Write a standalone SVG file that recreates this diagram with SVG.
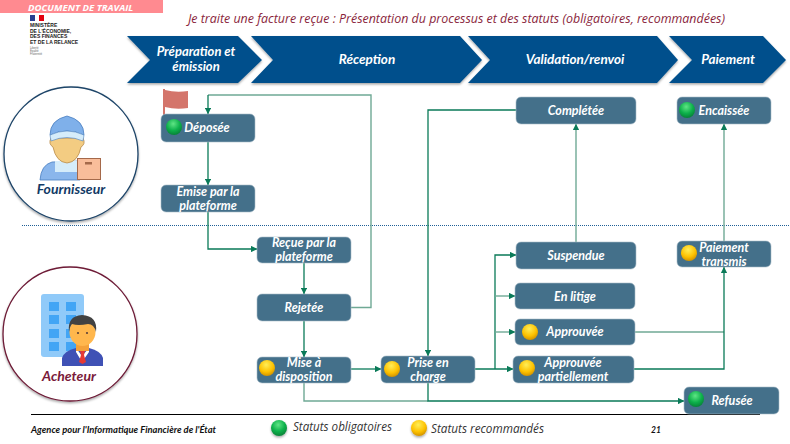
<svg xmlns="http://www.w3.org/2000/svg" width="790" height="444" viewBox="0 0 790 444">
<style>
text{font-family:"Lato","Liberation Sans",sans-serif}
.n{fill:#44708a;stroke:#a9bcc8;stroke-width:.6}
.t{fill:#fff;font-weight:700;font-style:italic;font-size:12.5px;text-anchor:middle}
.h{fill:#fff;font-weight:700;font-style:italic;font-size:13.5px;text-anchor:middle}
.c{fill:#03508c}
.d{fill:none;stroke:#0a7a58;stroke-width:1.3}
.l{fill:none;stroke:#6fa995;stroke-width:1.4}
.s{font-family:"Open Sans","Liberation Sans",sans-serif;font-style:italic;font-size:12px;fill:#333}
.m{font-family:"Liberation Sans",sans-serif;font-weight:700;font-size:5px;fill:#222}
.v{font-family:"Liberation Sans",sans-serif;font-size:2.8px;fill:#666}
</style>
<defs>
<filter id="sh" x="-10%" y="-10%" width="125%" height="130%"><feDropShadow dx="0" dy="1.5" stdDeviation="1.2" flood-color="#000" flood-opacity=".35"/></filter>
<radialGradient id="gg" cx=".45" cy=".3" r=".75"><stop offset="0" stop-color="#5fe585"/><stop offset=".55" stop-color="#0db14b"/><stop offset="1" stop-color="#067a35"/></radialGradient>
<radialGradient id="gy" cx=".45" cy=".3" r=".75"><stop offset="0" stop-color="#ffee58"/><stop offset=".6" stop-color="#fdc100"/><stop offset="1" stop-color="#c98a00"/></radialGradient>
<circle id="bg" r="8" fill="url(#gg)"/>
<circle id="by" r="8" fill="url(#gy)"/>
<marker id="a" viewBox="0 0 10 10" refX="9.5" refY="5" markerWidth="6.5" markerHeight="6.5" markerUnits="userSpaceOnUse" orient="auto"><path d="M0 0L10 5L0 10Z" fill="#0a7a58"/></marker>
</defs>

<rect x="0" y="0" width="163" height="13" fill="#ff8a90"/>
<text x="28" y="11" font-size="9.6" font-weight="700" font-style="italic" fill="#fff" style="font-family:'Open Sans',sans-serif">DOCUMENT DE TRAVAIL</text>

<g id="logo">
<rect x="30" y="15" width="5" height="6" fill="#2a3f8f"/><rect x="35" y="15" width="4" height="6" fill="#fff"/><rect x="39" y="15" width="5" height="6" fill="#e1000f"/>
<text class="m" x="30" y="27">MINISTÈRE</text>
<text class="m" x="30" y="32.500">DE L'ÉCONOMIE,</text>
<text class="m" x="30" y="38">DES FINANCES</text>
<text class="m" x="30" y="43.500">ET DE LA RELANCE</text>
<text class="v" x="30" y="49">Liberté</text><text class="v" x="30" y="52">Égalité</text><text class="v" x="30" y="55">Fraternité</text>
</g>

<text x="188" y="23" font-size="12.2" font-style="italic" fill="#8a1f3c" style="font-family:'Open Sans',sans-serif" textLength="537" lengthAdjust="spacingAndGlyphs">Je traite une facture reçue : Présentation du processus et des statuts (obligatoires, recommandées)</text>

<g id="phases" filter="url(#sh)">
<polygon class="c" points="127,36 238,36 262,60 238,83 127,83 150,60"/>
<polygon class="c" points="251,36 460,36 482,60 460,83 251,83 273,60"/>
<polygon class="c" points="468,36 657,36 678,60 657,83 468,83 490,60"/>
<polygon class="c" points="669,36 763,36 786,60 763,83 669,83 692,60"/>
</g>
<g id="phase-labels">
<text class="h" x="196" y="56" style="font-size:13px">Préparation et</text><text class="h" x="196" y="71" style="font-size:13px">émission</text>
<text class="h" x="367" y="64">Réception</text>
<text class="h" x="575" y="64">Validation/renvoi</text>
<text class="h" x="728" y="64">Paiement</text>
</g>

<line x1="22" y1="225.500" x2="790" y2="225.500" stroke="#1f5f96" stroke-width="1.2" stroke-dasharray="1 1"/>
<line x1="31" y1="414.500" x2="760" y2="414.500" stroke="#000" stroke-width="1"/>

<g id="fournisseur">
<circle cx="71" cy="154" r="67" fill="#fff" stroke="#1d4468" stroke-width="1.3" filter="url(#sh)"/>
<path d="M40 180Q41 165 52 162L80 161V180Z" fill="#8ab6ec" stroke="#4a7fc0" stroke-width=".8"/>
<path d="M55 161L79 161V172H55Z" fill="#d5ecfa"/>
<path d="M51 138Q48 144 53 147Q56 162 67 163Q78 162 81 147Q86 144 83 138Z" fill="#f3cc82" stroke="#b98b4a" stroke-width=".8"/>
<path d="M50 135Q50 120 67 116Q84 120 84 135Q67 127 50 135Z" fill="#7fb0ea" stroke="#4a7fc0" stroke-width=".8"/>
<path d="M50 135Q67 127 84 135L83 141Q67 134 51 141Z" fill="#d5ecfa" stroke="#4a7fc0" stroke-width=".6"/>
<rect x="77.500" y="158.500" width="23" height="21" fill="#f9bd9a" stroke="#a5694a" stroke-width="1"/>
<rect x="85" y="162" width="7" height="2.500" fill="#a5694a"/>
<text x="71" y="194" font-size="14" font-weight="700" font-style="italic" text-anchor="middle" fill="#123a66">Fournisseur</text>
</g>

<g id="acheteur">
<circle cx="70" cy="334" r="67" fill="#fff" stroke="#6d1a36" stroke-width="1.3" filter="url(#sh)"/>
<rect x="41" y="294" width="43" height="63" rx="3" fill="#90caf9"/>
<g fill="#42a5f5">
<rect x="49" y="302" width="10" height="9"/><rect x="66" y="302" width="10" height="9"/>
<rect x="49" y="315" width="10" height="9"/><rect x="66" y="315" width="10" height="9"/>
<rect x="49" y="329" width="10" height="9"/><rect x="66" y="329" width="10" height="9"/>
<rect x="49" y="342" width="10" height="9"/><rect x="66" y="342" width="10" height="9"/>
</g>
<path d="M62 366V358Q64 351 76 348H89Q101 351 103 358V366Z" fill="#3f51b5"/>
<path d="M76 348L82 356L89 348V352L82 362L76 352Z" fill="#fff"/>
<path d="M80 351H85L84 355L86 362L82.500 364L79 362L81 355Z" fill="#e53935"/>
<rect x="76" y="342" width="13" height="9" fill="#f4a13a"/>
<ellipse cx="82.500" cy="332" rx="13" ry="14" fill="#ffb74d"/>
<path d="M69 332Q67 316 82 315Q98 316 96 332Q94 324 88 324Q78 326 72 324Q70 326 69 332Z" fill="#424242"/>
<circle cx="78" cy="333" r="1.100" fill="#5d4037"/><circle cx="87" cy="333" r="1.100" fill="#5d4037"/>
<text x="69" y="381" font-size="14" font-weight="700" font-style="italic" text-anchor="middle" fill="#7a1a3a">Acheteur</text>
</g>

<g id="connectors">
<path class="l" d="M351 307.500H371V95H208"/>
<path class="d" d="M208 95V114" marker-end="url(#a)"/>
<path class="d" d="M208 142V185" marker-end="url(#a)"/>
<path class="d" d="M208 212V249H257" marker-end="url(#a)"/>
<path class="d" d="M304 263V294" marker-end="url(#a)"/>
<path class="d" d="M304 321V357" marker-end="url(#a)"/>
<path class="d" d="M351 369H381" marker-end="url(#a)"/>
<path class="l" d="M304 383V401H428"/>
<path class="d" d="M428 383V401H684" marker-end="url(#a)"/>
<path class="d" d="M516 110H428V356" marker-end="url(#a)"/>
<path class="d" d="M475 369H513" marker-end="url(#a)"/>
<path class="d" d="M495 369V255H516" marker-end="url(#a)"/>
<path class="l" d="M495 296H515" marker-end="url(#a)"/>
<path class="l" d="M495 332H515" marker-end="url(#a)"/>
<path class="l" d="M576 242V124" marker-end="url(#a)"/>
<path class="l" d="M635 332H724"/>
<path class="d" d="M634 369H724V267" marker-end="url(#a)"/>
<path class="l" d="M724 241V124" marker-end="url(#a)"/>
</g>

<g id="flag"><rect x="163" y="89" width="2" height="26" fill="#d4756b"/><path d="M165 90Q176 93 188 91V108Q176 110 165 107Z" fill="#d4756b"/></g>

<g id="deposee"><rect class="n" x="161" y="114" width="94" height="28" rx="5"/><use href="#bg" x="174" y="127"/><text class="t" x="207" y="132">Déposée</text></g>
<g id="emise"><rect class="n" x="161" y="185" width="94" height="27" rx="5"/><text class="t" x="208" y="196">Emise par la</text><text class="t" x="208" y="210">plateforme</text></g>
<g id="recue"><rect class="n" x="257" y="237" width="94" height="26" rx="5"/><text class="t" x="304" y="247">Reçue par la</text><text class="t" x="304" y="261">plateforme</text></g>
<g id="rejetee"><rect class="n" x="257" y="294" width="94" height="27" rx="5"/><text class="t" x="304" y="312">Rejetée</text></g>
<g id="mise"><rect class="n" x="257" y="357" width="94" height="26" rx="5"/><use href="#by" x="267" y="368"/><text class="t" x="304" y="367">Mise à</text><text class="t" x="304" y="381">disposition</text></g>
<g id="prise"><rect class="n" x="381" y="356" width="94" height="27" rx="5"/><use href="#by" x="392" y="369"/><text class="t" x="428" y="367">Prise en</text><text class="t" x="428" y="381">charge</text></g>
<g id="completee"><rect class="n" x="516" y="97" width="120" height="27" rx="5"/><text class="t" x="576" y="115">Complétée</text></g>
<g id="suspendue"><rect class="n" x="516" y="242" width="120" height="27" rx="5"/><text class="t" x="576" y="260">Suspendue</text></g>
<g id="litige"><rect class="n" x="515" y="283" width="120" height="26" rx="5"/><text class="t" x="575" y="301">En litige</text></g>
<g id="approuvee"><rect class="n" x="515" y="319" width="120" height="26" rx="5"/><use href="#by" x="530" y="332"/><text class="t" x="575" y="336">Approuvée</text></g>
<g id="approuvee-part"><rect class="n" x="513" y="356" width="121" height="27" rx="5"/><use href="#by" x="527" y="368"/><text class="t" x="573" y="367">Approuvée</text><text class="t" x="573" y="381">partiellement</text></g>
<g id="encaissee"><rect class="n" x="677" y="97" width="94" height="27" rx="5"/><use href="#bg" x="687" y="110"/><text class="t" x="724" y="115">Encaissée</text></g>
<g id="paiement"><rect class="n" x="677" y="241" width="94" height="26" rx="5"/><use href="#by" x="689" y="253"/><text class="t" x="724" y="251.500">Paiement</text><text class="t" x="724" y="265.500">transmis</text></g>
<g id="refusee"><rect class="n" x="684" y="387" width="95" height="27" rx="5"/><use href="#bg" x="696" y="399"/><text class="t" x="732" y="405">Refusée</text></g>

<g id="footer">
<text x="31" y="433" font-size="8.800" font-weight="700" font-style="italic" fill="#111" textLength="185" lengthAdjust="spacingAndGlyphs">Agence pour l'Informatique Financière de l'État</text>
<use href="#bg" x="279" y="428" filter="url(#sh)"/>
<text class="s" x="293" y="431" textLength="99" lengthAdjust="spacingAndGlyphs">Statuts obligatoires</text>
<use href="#by" x="419" y="428" filter="url(#sh)"/>
<text class="s" x="431" y="433" textLength="113" lengthAdjust="spacingAndGlyphs">Statuts recommandés</text>
<text x="651" y="433" font-size="8.500" font-weight="700" font-style="italic" fill="#111">21</text>
</g>
</svg>
